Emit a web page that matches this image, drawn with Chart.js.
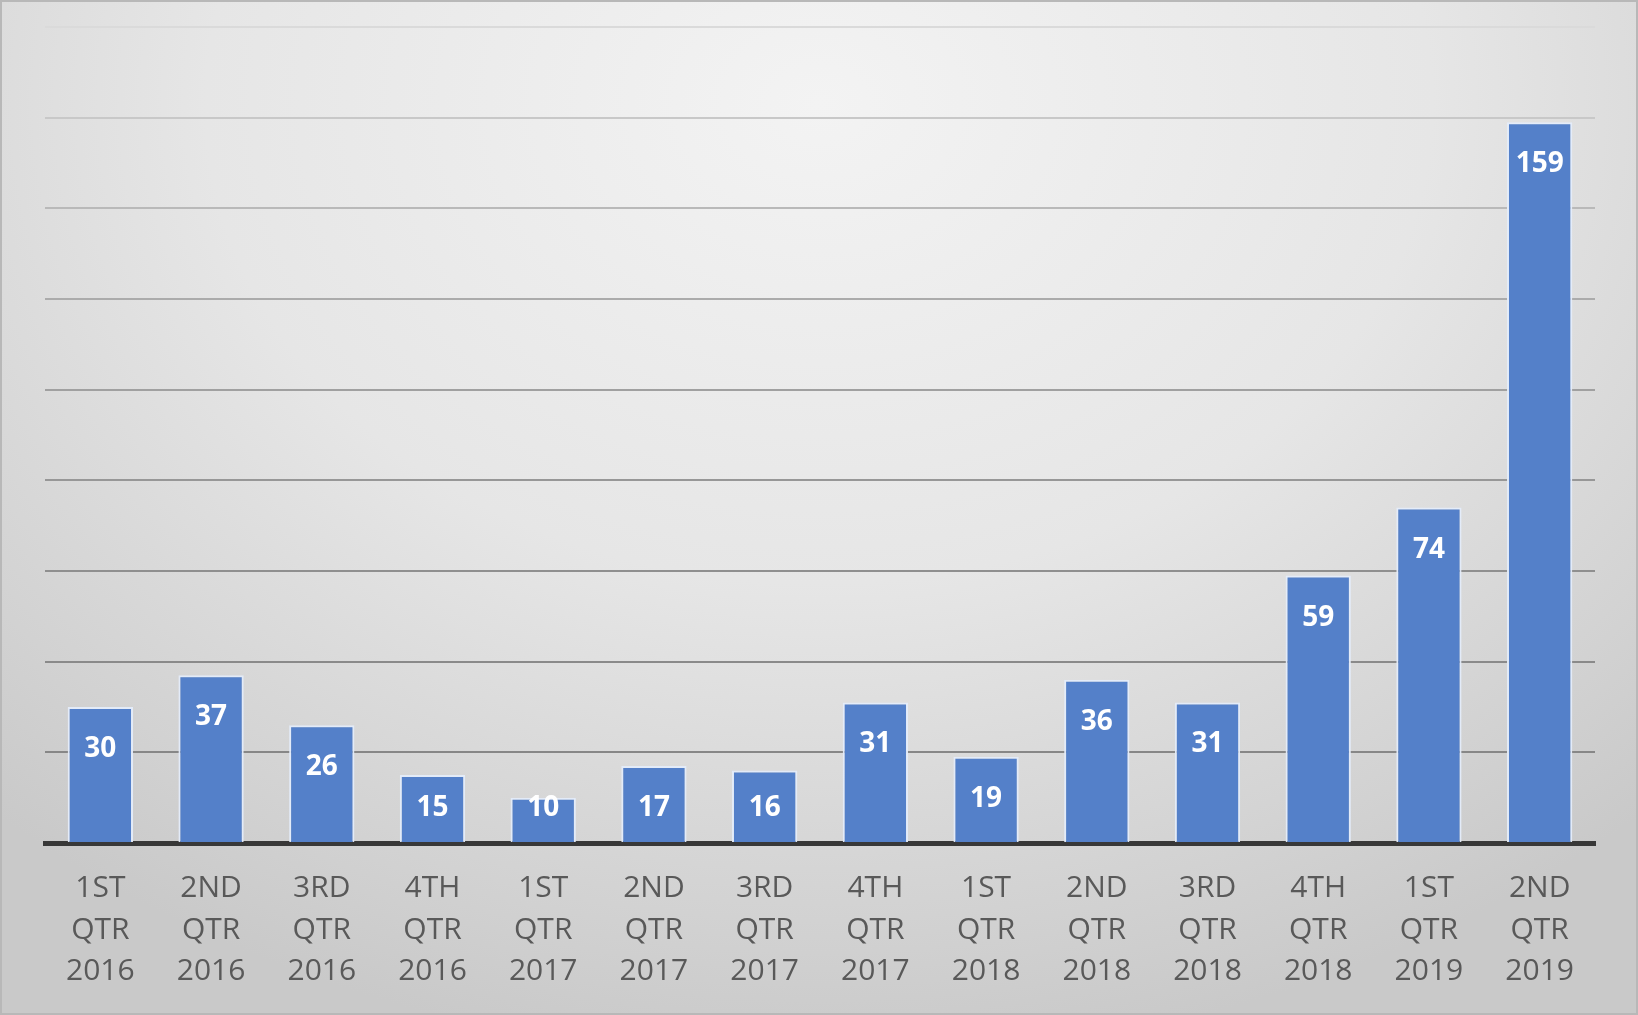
<!DOCTYPE html>
<html>
<head>
<meta charset="utf-8">
<script src="https://cdn.jsdelivr.net/npm/chart.js@4"></script>
<style>
  html, body { margin: 0; padding: 0; }
  #frame {
    width: 1638px;
    height: 1015px;
    box-sizing: border-box;
    border: 2px solid #b8b8b8;
    background: radial-gradient(ellipse 75% 95% at 50% 10%, #f3f3f3 0%, #e6e6e6 50%, #d2d2d2 85%, #c9c9c9 100%);
  }
  #wrap { position: relative; width: 1634px; height: 1011px; }
</style>
</head>
<body>
<div id="frame"><div id="wrap"><canvas id="quarters"></canvas></div></div>
<script>
const quarters = ["1ST", "2ND", "3RD", "4TH", "1ST", "2ND", "3RD", "4TH", "1ST", "2ND", "3RD", "4TH", "1ST", "2ND"];
const years = ["2016", "2016", "2016", "2016", "2017", "2017", "2017", "2017", "2018", "2018", "2018", "2018", "2019", "2019"];
const counts = [30, 37, 26, 15, 10, 17, 16, 31, 19, 36, 31, 59, 74, 159];
const yMax = 180;
const yStep = 20;

const labels = quarters.map((q, i) => [q, "QTR", years[i]]);

// white bold value labels near the top of each bar
const barValues = {
  id: "barValues",
  afterDatasetsDraw(chart) {
    const { ctx } = chart;
    const meta = chart.getDatasetMeta(0);
    ctx.save();
    ctx.font = "bold 28px 'Open Sans'";
    ctx.fillStyle = "#ffffff";
    ctx.textAlign = "center";
    ctx.textBaseline = "middle";
    meta.data.forEach((bar, i) => {
      const cy = Math.min(bar.y + 42, bar.base - 34);
      ctx.fillText(String(counts[i]), bar.x, cy);
    });
    ctx.restore();
  },
};

const gridShade = (value) => {
  const t = value / yMax;
  const g = Math.round(134 + 84 * t * t);
  return `rgb(${g},${g},${g})`;
};

const el = document.getElementById("quarters");
// eslint-disable-next-line no-unused-vars
const quarterChart = new Chart(el, {
  type: "bar",
  data: {
    labels,
    datasets: [
      {
        label: "Count",
        data: counts,
        backgroundColor: "rgb(84,128,201)",
        borderColor: "rgba(228,236,250,0.95)",
        borderWidth: 2,
        borderSkipped: "bottom",
        barPercentage: 0.59,
        categoryPercentage: 1,
      },
    ],
  },
  plugins: [barValues],
  options: {
    responsive: true,
    maintainAspectRatio: false,
    animation: false,
    layout: {
      padding: { left: 43, right: 41, top: 25, bottom: 0 },
    },
    plugins: {
      legend: { display: false },
      tooltip: { enabled: false },
    },
    scales: {
      x: {
        grid: { display: false, drawTicks: false },
        border: { display: true, color: "#383838", width: 5 },
        ticks: {
          color: "#595959",
          font: { family: "'Open Sans'", size: 30, lineHeight: 1.38 },
          padding: 25,
          maxRotation: 0,
          autoSkip: false,
        },
        afterFit(scale) {
          scale.height = 170;
        },
      },
      y: {
        min: 0,
        max: yMax,
        ticks: { display: false, stepSize: yStep },
        border: { display: false },
        grid: {
          drawTicks: false,
          lineWidth: 2,
          color: (c) => gridShade(c.tick.value),
        },
      },
    },
  },
});
</script>
</body>
</html>
